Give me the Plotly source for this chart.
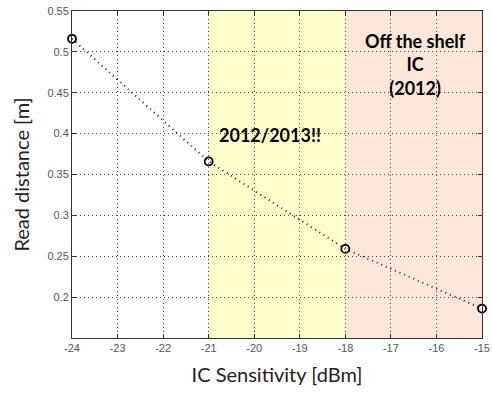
import plotly.graph_objects as go

sensitivity = [-24, -21, -18, -15]
read_distance = [0.516, 0.366, 0.259, 0.186]
x_ticks = [-24, -23, -22, -21, -20, -19, -18, -17, -16, -15]
y_ticks = [0.2, 0.25, 0.3, 0.35, 0.4, 0.45, 0.5, 0.55]
band_2013 = [-21, -18]
band_shelf = [-18, -15]

fig = go.Figure()
fig.add_trace(go.Scatter(
    x=sensitivity, y=read_distance, mode="lines+markers",
    line=dict(color="#222222", width=2, dash="1px,4px"),
    marker=dict(symbol="circle-open", size=8, color="black", line=dict(width=1.8)),
    showlegend=False, cliponaxis=False))

fig.add_shape(type="rect", xref="x", yref="paper", x0=band_2013[0], x1=band_2013[1], y0=0, y1=1,
              fillcolor="#FFFFCC", line_width=0, layer="below")
fig.add_shape(type="rect", xref="x", yref="paper", x0=band_shelf[0], x1=band_shelf[1], y0=0, y1=1,
              fillcolor="#FCE6DA", line_width=0, layer="below")

fig.add_annotation(x=-20.82, y=0.398, text="<b>2012/2013!!</b>", showarrow=False,
                   xanchor="left", yanchor="middle",
                   font=dict(family="Lato", size=18, color="black"))
fig.add_annotation(x=-16.47, y=0.485, text="<b>Off the shelf<br>IC<br>(2012)</b>", showarrow=False,
                   xanchor="center", yanchor="middle",
                   font=dict(family="Lato", size=18, color="black"))

axis_common = dict(showline=True, linecolor="#333333", linewidth=1, mirror="ticks",
                   ticks="inside", ticklen=4, tickcolor="#333333",
                   showgrid=True, gridcolor="#444444", griddash="1px,3px", gridwidth=1,
                   zeroline=False, automargin=False,
                   tickfont=dict(family="Liberation Sans", size=11, color="#555555"))

fig.update_xaxes(range=[-24, -15], tickvals=x_ticks, ticktext=[str(v) for v in x_ticks],
                 title=dict(text="IC Sensitivity [dBm]", font=dict(family="Lato", size=20, color="#222222"),
                            standoff=14),
                 **axis_common)
fig.update_yaxes(range=[0.15, 0.55], tickvals=y_ticks, ticktext=[f"{v:g}" for v in y_ticks],
                 title=dict(text="Read distance [m]", font=dict(family="Lato", size=20, color="#222222"),
                            standoff=12),
                 **axis_common)

fig.update_layout(width=492, height=393, margin=dict(l=72, r=10, t=11, b=55),
                  paper_bgcolor="white", plot_bgcolor="white")

fig.write_html("out.html")
